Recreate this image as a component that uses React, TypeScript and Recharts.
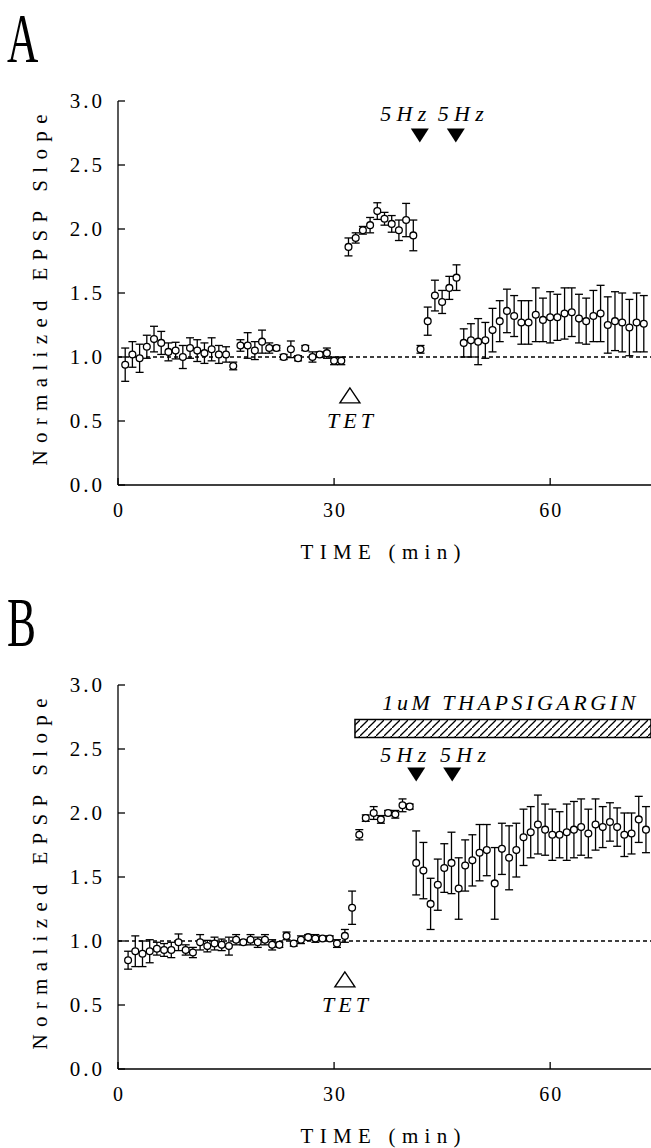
import React from "react";
import {
  ScatterChart,
  Scatter,
  XAxis,
  YAxis,
  ErrorBar,
  ReferenceLine,
  ReferenceArea,
} from "recharts";

// panel A: control slices
const minutesA = [
  1, 2, 3, 4, 5, 6, 7, 8, 9, 10, 11, 12, 13, 14, 15, 16, 17, 18, 19, 20, 21,
  22, 23, 24, 25, 26, 27, 28, 29, 30, 31, 32, 33, 34, 35, 36, 37, 38, 39, 40,
  41, 42, 43, 44, 45, 46, 47, 48, 49, 50, 51, 52, 53, 54, 55, 56, 57, 58, 59,
  60, 61, 62, 63, 64, 65, 66, 67, 68, 69, 70, 71, 72, 73,
];
const slopeA = [
  0.94, 1.02, 0.99, 1.08, 1.14, 1.11, 1.04, 1.05, 1.0, 1.07, 1.05, 1.03, 1.06,
  1.02, 1.02, 0.93, 1.09, 1.09, 1.05, 1.12, 1.07, 1.07, 1.0, 1.06, 0.99, 1.07,
  1.0, 1.02, 1.03, 0.97, 0.97, 1.86, 1.93, 1.99, 2.03, 2.14, 2.08, 2.04, 1.99,
  2.07, 1.95, 1.06, 1.28, 1.48, 1.43, 1.54, 1.62, 1.11, 1.13, 1.12, 1.13, 1.21,
  1.28, 1.36, 1.32, 1.27, 1.27, 1.33, 1.29, 1.31, 1.31, 1.34, 1.35, 1.3, 1.28,
  1.32, 1.34, 1.25, 1.28, 1.27, 1.23, 1.27, 1.26,
];
const semA = [
  0.13, 0.1, 0.11, 0.09, 0.1, 0.09, 0.07, 0.065, 0.09, 0.08, 0.085, 0.08, 0.09,
  0.07, 0.06, 0.03, 0.045, 0.1, 0.07, 0.09, 0.04, 0.02, 0.02, 0.065, 0.02,
  0.02, 0.04, 0.02, 0.04, 0.03, 0.03, 0.07, 0.04, 0.03, 0.06, 0.065, 0.05,
  0.065, 0.08, 0.13, 0.12, 0.03, 0.11, 0.12, 0.09, 0.09, 0.1, 0.11, 0.13, 0.18,
  0.14, 0.17, 0.16, 0.17, 0.16, 0.17, 0.17, 0.21, 0.17, 0.2, 0.18, 0.2, 0.19,
  0.19, 0.18, 0.2, 0.22, 0.22, 0.23, 0.23, 0.22, 0.23, 0.22,
];

// panel B: thapsigargin
const minutesB = [
  1.4, 2.4, 3.4, 4.4, 5.4, 6.4, 7.4, 8.4, 9.4, 10.4, 11.4, 12.4, 13.4, 14.4,
  15.4, 16.4, 17.4, 18.4, 19.4, 20.4, 21.4, 22.4, 23.4, 24.4, 25.4, 26.4, 27.4,
  28.4, 29.4, 30.4, 31.5, 32.5, 33.5, 34.4, 35.5, 36.5, 37.5, 38.5, 39.5, 40.5,
  41.4, 42.4, 43.4, 44.4, 45.3, 46.3, 47.3, 48.2, 49.2, 50.2, 51.2, 52.3, 53.3,
  54.3, 55.3, 56.3, 57.3, 58.3, 59.3, 60.3, 61.3, 62.3, 63.3, 64.3, 65.3, 66.3,
  67.3, 68.3, 69.3, 70.3, 71.3, 72.3, 73.3,
];
const slopeB = [
  0.85, 0.92, 0.9, 0.92, 0.94, 0.93, 0.93, 0.99, 0.93, 0.91, 0.99, 0.96, 0.98,
  0.97, 0.96, 1.01, 0.99, 1.01, 0.99, 1.01, 0.97, 0.97, 1.04, 0.98, 1.01, 1.03,
  1.02, 1.02, 1.02, 0.98, 1.04, 1.26, 1.83, 1.96, 2.0, 1.95, 2.0, 1.99, 2.06,
  2.05, 1.61, 1.55, 1.29, 1.44, 1.57, 1.61, 1.41, 1.59, 1.63, 1.69, 1.71, 1.45,
  1.72, 1.65, 1.71, 1.81, 1.85, 1.91, 1.87, 1.83, 1.83, 1.85, 1.87, 1.89, 1.84,
  1.91, 1.89, 1.93, 1.89, 1.83, 1.84, 1.95, 1.87,
];
const semB = [
  0.07, 0.12, 0.1, 0.09, 0.05, 0.05, 0.06, 0.065, 0.04, 0.04, 0.06, 0.045, 0.05,
  0.045, 0.07, 0.04, 0.02, 0.04, 0.04, 0.04, 0.04, 0.02, 0.03, 0.02, 0.03, 0.02,
  0.03, 0.02, 0.02, 0.03, 0.05, 0.13, 0.04, 0.025, 0.05, 0.03, 0.02, 0.03, 0.05,
  0.02, 0.25, 0.22, 0.2, 0.2, 0.19, 0.24, 0.24, 0.2, 0.2, 0.22, 0.2, 0.28, 0.2,
  0.25, 0.21, 0.22, 0.2, 0.23, 0.2, 0.2, 0.18, 0.22, 0.22, 0.22, 0.19, 0.2,
  0.16, 0.15, 0.15, 0.17, 0.16, 0.18, 0.18,
];

const timeTicks = [0, 30, 60];
const slopeTicks = [0, 0.5, 1, 1.5, 2, 2.5, 3];

// stimulus marks (minutes / slope units)
const trainTimesA = [41.9, 46.9];
const trainLabelTimesA = [39.6, 47.6];
const trainTimesB = [41.4, 46.4];
const trainLabelTimesB = [39.6, 47.9];

const SERIF = '"Liberation Serif", serif';
const W = 651;
const H = 564;

const Dot = (p: any) => (
  <circle cx={p.cx} cy={p.cy} r={3.4} fill="#fff" stroke="#000" strokeWidth={1.3} />
);

const OpenTriangle = (p: any) => (
  <polygon
    points={`${p.cx},${p.cy - 7.5} ${p.cx - 10},${p.cy + 7.5} ${p.cx + 10},${p.cy + 7.5}`}
    fill="#fff"
    stroke="#000"
    strokeWidth={1.4}
  />
);

const DownTriangle = (p: any) => (
  <polygon
    points={`${p.cx - 9},${p.cy - 7} ${p.cx + 9},${p.cy - 7} ${p.cx},${p.cy + 7}`}
    fill="#000"
  />
);

const italicText = (txt: string, len: number, anchor = "middle") => (p: any) =>
  (
    <text
      x={p.cx}
      y={p.cy}
      dy={7}
      textAnchor={anchor}
      fontFamily={SERIF}
      fontStyle="italic"
      fontSize={22}
      textLength={len}
      lengthAdjust="spacing"
      fill="#000"
    >
      {txt}
    </text>
  );

const LeftTick = (p: any) => (
  <g>
    <line x1={p.x + 15} y1={p.y} x2={p.x + 22} y2={p.y} stroke="#000" strokeWidth={1.3} />
    <text
      x={p.x + 2}
      y={p.y}
      dy={7}
      textAnchor="end"
      fontFamily={SERIF}
      fontSize={21}
      letterSpacing={3}
      fill="#000"
    >
      {p.payload.value.toFixed(1)}
    </text>
  </g>
);

const RightTick = (p: any) => (
  <line x1={p.x - 7} y1={p.y} x2={p.x} y2={p.y} stroke="#000" strokeWidth={1.3} />
);

const BottomTick = (p: any) => (
  <g>
    <line x1={p.x} y1={p.y - 18} x2={p.x} y2={p.y - 25} stroke="#000" strokeWidth={1.3} />
    <text
      x={p.x + 1}
      y={p.y + 14}
      textAnchor="middle"
      fontFamily={SERIF}
      fontSize={20}
      letterSpacing={2}
      fill="#000"
    >
      {p.payload.value}
    </text>
  </g>
);

const TopTick = (p: any) =>
  p.payload.value === 0 ? (
    <g />
  ) : (
    <line x1={p.x} y1={p.y} x2={p.x} y2={p.y + 7} stroke="#000" strokeWidth={1.3} />
  );

const YTitle = (props: any) => {
  const vb = props.viewBox || { x: 0, y: 101, width: 118, height: 384 };
  const cx = vb.x + 47;
  const cy = vb.y + vb.height / 2 - 3;
  return (
    <text
      x={cx}
      y={cy}
      transform={`rotate(-90 ${cx} ${cy})`}
      textAnchor="middle"
      fontFamily={SERIF}
      fontSize={21}
      textLength={351}
      lengthAdjust="spacing"
      fill="#000"
    >
      Normalized EPSP Slope
    </text>
  );
};

const XTitle = (props: any) => {
  const vb = props.viewBox || { x: 118, y: 485, width: 533, height: 79 };
  return (
    <text
      x={vb.x + vb.width / 2 - 4}
      y={vb.y + 74}
      textAnchor="middle"
      fontFamily={SERIF}
      fontSize={21}
      textLength={160}
      lengthAdjust="spacing"
      fill="#000"
    >
      TIME (min)
    </text>
  );
};

type PanelProps = {
  letter: string;
  top: number;
  minutes: number[];
  slope: number[];
  sem: number[];
  trains: number[];
  trainLabels: number[];
  trainLevel: number;
  trainLabelLevel: number;
  tet: number;
  drug?: boolean;
};

const Panel = ({
  letter,
  top,
  minutes,
  slope,
  sem,
  trains,
  trainLabels,
  trainLevel,
  trainLabelLevel,
  tet,
  drug,
}: PanelProps) => {
  const points = minutes.map((t, i) => ({ t, v: slope[i], err: sem[i] }));
  return (
    <div style={{ position: "absolute", left: 0, top, width: W, height: H }}>
      <svg width={80} height={80} style={{ position: "absolute", left: 0, top: 0 }}>
        <text
          x={7 / 0.62}
          y={62}
          transform="scale(0.62 1)"
          fontFamily={SERIF}
          fontSize={70}
          fill="#000"
        >
          {letter}
        </text>
      </svg>
      <ScatterChart
        width={W}
        height={H}
        margin={{ top: 101, right: 0, bottom: 0, left: 0 }}
        style={{ position: "absolute", left: 0, top: 0 }}
      >
        <XAxis
          type="number"
          dataKey="t"
          domain={[0, 74]}
          ticks={timeTicks}
          height={79}
          tickSize={0}
          tickMargin={18}
          tickLine={false}
          axisLine={{ stroke: "#000", strokeWidth: 1.3 }}
          tick={<BottomTick />}
          label={XTitle}
        />
        <XAxis
          xAxisId="top"
          orientation="top"
          type="number"
          domain={[0, 74]}
          ticks={timeTicks}
          height={0}
          tickSize={0}
          tickMargin={0}
          tickLine={false}
          axisLine={{ stroke: "#000", strokeWidth: 1.3 }}
          tick={<TopTick />}
        />
        <YAxis
          type="number"
          dataKey="v"
          domain={[0, 3]}
          ticks={slopeTicks}
          width={118}
          tickSize={0}
          tickMargin={15}
          tickLine={false}
          axisLine={{ stroke: "#000", strokeWidth: 1.3 }}
          tick={<LeftTick />}
          label={YTitle}
        />
        <YAxis
          yAxisId="right"
          orientation="right"
          type="number"
          domain={[0, 3]}
          ticks={slopeTicks}
          width={0}
          tickSize={0}
          tickMargin={0}
          tickLine={false}
          axisLine={false}
          tick={<RightTick />}
        />
        <ReferenceLine
          y={1}
          stroke="#000"
          strokeWidth={1.6}
          strokeDasharray="4 3"
        />
        {drug && (
          <ReferenceArea
            x1={32.9}
            x2={74}
            y1={2.59}
            y2={2.73}
            fill="url(#hatch)"
            fillOpacity={1}
            stroke="#000"
            strokeWidth={1.5}
            ifOverflow="extendDomain"
          />
        )}
        {drug && (
          <Scatter
            data={[{ t: 36.7, v: 2.86 }]}
            shape={italicText("1uM THAPSIGARGIN", 253, "start")}
            isAnimationActive={false}
          />
        )}
        <Scatter data={points} shape={Dot} isAnimationActive={false}>
          <ErrorBar
            dataKey="err"
            direction="y"
            width={4}
            stroke="#000"
            strokeWidth={1.3}
          />
        </Scatter>
        <Scatter
          data={trains.map((t) => ({ t, v: trainLevel }))}
          shape={DownTriangle}
          isAnimationActive={false}
        />
        <Scatter
          data={trainLabels.map((t) => ({ t, v: trainLabelLevel }))}
          shape={italicText("5Hz", 46)}
          isAnimationActive={false}
        />
        <Scatter
          data={[{ t: tet, v: 0.7 }]}
          shape={OpenTriangle}
          isAnimationActive={false}
        />
        <Scatter
          data={[{ t: tet, v: 0.5 }]}
          shape={italicText("TET", 46)}
          isAnimationActive={false}
        />
      </ScatterChart>
    </div>
  );
};

export default function App() {
  return (
    <div style={{ position: "absolute", left: 0, top: 0, width: 651, height: 1148, background: "#fff" }}>
      <svg width={0} height={0} style={{ position: "absolute" }}>
        <defs>
          <pattern id="hatch" patternUnits="userSpaceOnUse" width={8} height={8}>
            <rect width={8} height={8} fill="#fff" />
            <line x1={-2} y1={10} x2={10} y2={-2} stroke="#000" strokeWidth={1.3} />
          </pattern>
        </defs>
      </svg>
      <Panel
        letter="A"
        top={0}
        minutes={minutesA}
        slope={slopeA}
        sem={semA}
        trains={trainTimesA}
        trainLabels={trainLabelTimesA}
        trainLevel={2.73}
        trainLabelLevel={2.9}
        tet={32.2}
      />
      <Panel
        letter="B"
        top={584}
        minutes={minutesB}
        slope={slopeB}
        sem={semB}
        trains={trainTimesB}
        trainLabels={trainLabelTimesB}
        trainLevel={2.3}
        trainLabelLevel={2.45}
        tet={31.5}
        drug
      />
    </div>
  );
}
